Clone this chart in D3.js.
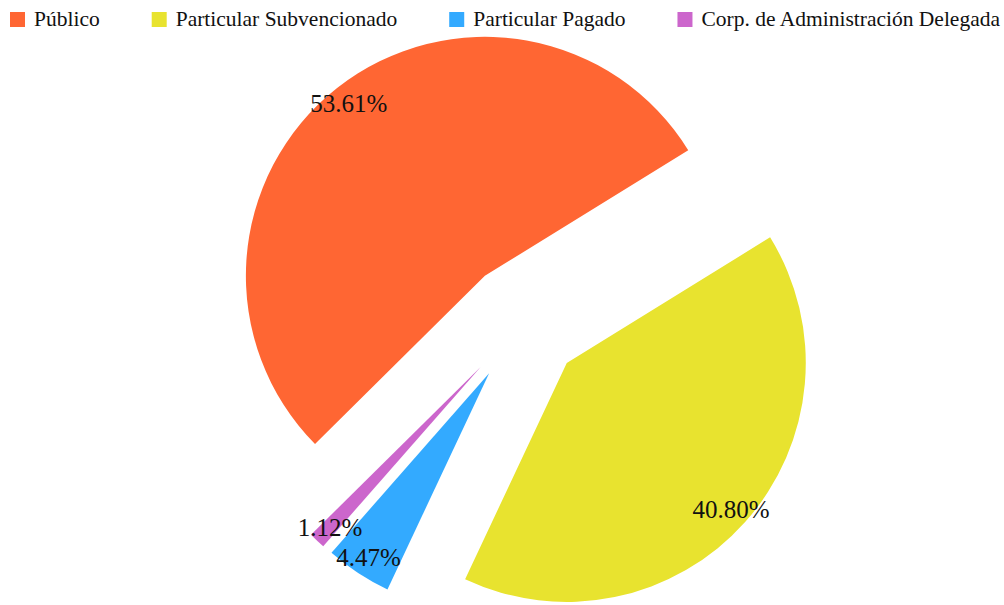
<!DOCTYPE html>
<html>
<head>
<meta charset="utf-8">
<script src="https://cdn.jsdelivr.net/npm/d3@7"></script>
<style>
  html, body { margin: 0; padding: 0; background: #fff; }
  svg text { font-family: 'Liberation Serif', 'Times New Roman', 'DejaVu Serif', serif; }
</style>
</head>
<body>
<div id="chart"></div>
<script>
// data
const categories = ['Público', 'Particular Subvencionado', 'Particular Pagado', 'Corp. de Administración Delegada'];
const shares = [53.61, 40.80, 4.47, 1.12];
const labels = ['53.61%', '40.80%', '4.47%', '1.12%'];
const colors = ['#ff6633', '#e8e32f', '#33aaff', '#cc66cc'];

const width = 1004;
const height = 605;
const cx = 522;
const cy = 323;
const radius = 239;
const explode = 60;
const labelR = 220;
const serif = "'Liberation Serif', 'Times New Roman', 'DejaVu Serif', serif";

const svg = d3.select('#chart')
  .append('svg')
  .attr('width', width)
  .attr('height', height);

// legend
const legend = svg.append('g').attr('class', 'legend');
let lx = 10;
categories.forEach((name, i) => {
  const item = legend.append('g').attr('transform', `translate(${lx}, 0)`);
  item.append('rect')
    .attr('x', 0)
    .attr('y', 12)
    .attr('width', 15)
    .attr('height', 15)
    .attr('fill', colors[i]);
  const t = item.append('text')
    .attr('x', 24)
    .attr('y', 26)
    .attr('font-family', serif)
    .attr('font-size', 21.5)
    .attr('fill', '#111')
    .text(name);
  lx += 24 + t.node().getComputedTextLength() + 52;
});

// pie
const start = -134.7 * Math.PI / 180;
const pie = d3.pie()
  .sort(null)
  .startAngle(start)
  .endAngle(start + 2 * Math.PI);
const arcs = pie(shares);
const arc = d3.arc().innerRadius(0).outerRadius(radius);

// offset of each slice along its bisector
const offset = (d, r) => {
  const a = (d.startAngle + d.endAngle) / 2 - Math.PI / 2;
  return [Math.cos(a) * r, Math.sin(a) * r];
};

const g = svg.append('g').attr('transform', `translate(${cx}, ${cy})`);

const slices = g.selectAll('.slice')
  .data(arcs)
  .enter().append('g')
  .attr('class', 'slice')
  .attr('transform', d => {
    const [dx, dy] = offset(d, explode);
    return `translate(${dx}, ${dy})`;
  });

slices.append('path')
  .attr('d', arc)
  .attr('fill', (d, i) => colors[i]);

slices.append('text')
  .attr('x', d => offset(d, labelR)[0])
  .attr('y', d => offset(d, labelR)[1])
  .attr('dy', '0.35em')
  .attr('text-anchor', 'middle')
  .attr('font-family', serif)
  .attr('font-size', 25)
  .attr('fill', '#111')
  .text((d, i) => labels[i]);
</script>
</body>
</html>
